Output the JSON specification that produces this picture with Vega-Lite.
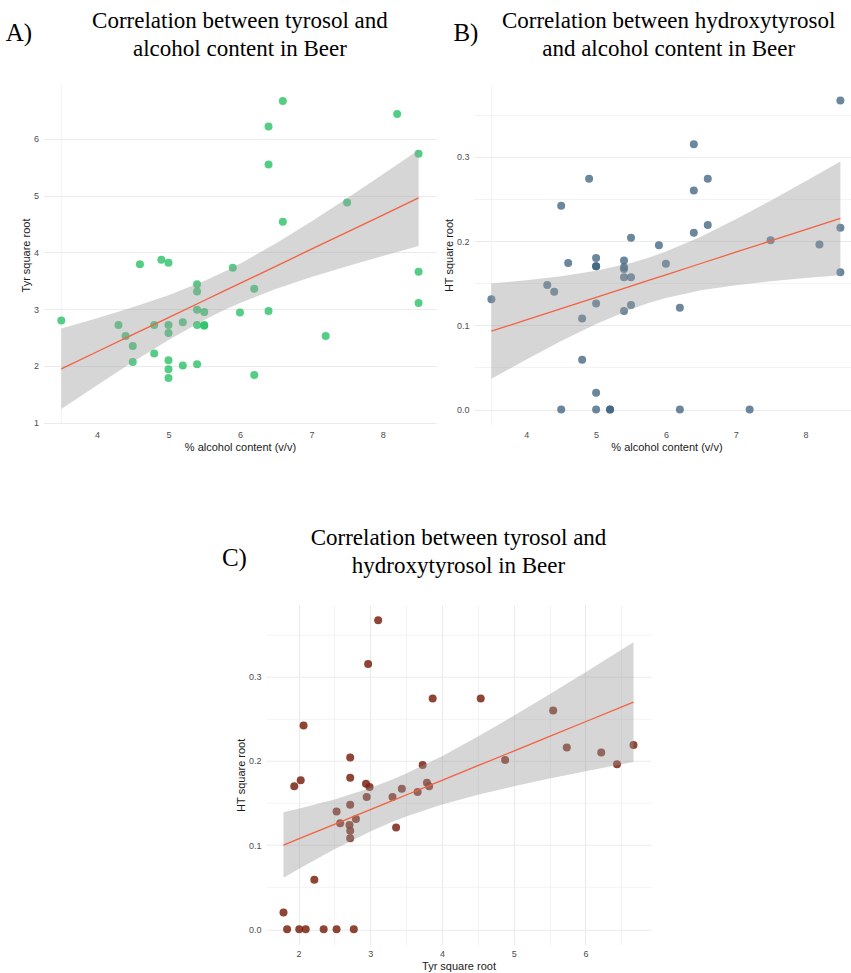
{
  "$schema": "https://vega.github.io/schema/vega-lite/v6.json",
  "padding": {"left": 5, "top": 10, "right": 0, "bottom": 0},
  "background": "white",
  "datasets": {
    "beer": [
      {"alc": 3.5, "tyr": 2.80, "ht": 0.131}, {"alc": 4.3, "tyr": 2.72, "ht": 0.148}, {"alc": 4.4, "tyr": 2.53, "ht": 0.140},
      {"alc": 4.5, "tyr": 2.35, "ht": 0.000}, {"alc": 4.5, "tyr": 2.07, "ht": 0.242}, {"alc": 4.6, "tyr": 3.79, "ht": 0.174},
      {"alc": 4.8, "tyr": 2.72, "ht": 0.108}, {"alc": 4.8, "tyr": 2.22, "ht": 0.059}, {"alc": 4.9, "tyr": 3.87, "ht": 0.274},
      {"alc": 5.0, "tyr": 3.82, "ht": 0.170}, {"alc": 5.0, "tyr": 2.72, "ht": 0.180}, {"alc": 5.0, "tyr": 2.58, "ht": 0.126},
      {"alc": 5.0, "tyr": 2.10, "ht": 0.000}, {"alc": 5.0, "tyr": 1.94, "ht": 0.170}, {"alc": 5.0, "tyr": 1.79, "ht": 0.020},
      {"alc": 5.2, "tyr": 2.77, "ht": 0.000}, {"alc": 5.2, "tyr": 2.01, "ht": 0.000}, {"alc": 5.4, "tyr": 3.44, "ht": 0.167},
      {"alc": 5.4, "tyr": 3.31, "ht": 0.157}, {"alc": 5.4, "tyr": 2.99, "ht": 0.169}, {"alc": 5.4, "tyr": 2.72, "ht": 0.117},
      {"alc": 5.4, "tyr": 2.03, "ht": 0.177}, {"alc": 5.5, "tyr": 2.95, "ht": 0.157}, {"alc": 5.5, "tyr": 2.72, "ht": 0.204},
      {"alc": 5.5, "tyr": 2.71, "ht": 0.124}, {"alc": 5.9, "tyr": 3.73, "ht": 0.195}, {"alc": 6.0, "tyr": 2.94, "ht": 0.173},
      {"alc": 6.2, "tyr": 3.36, "ht": 0.121}, {"alc": 6.2, "tyr": 1.84, "ht": 0.000}, {"alc": 6.4, "tyr": 6.22, "ht": 0.210},
      {"alc": 6.4, "tyr": 5.55, "ht": 0.260}, {"alc": 6.4, "tyr": 2.97, "ht": 0.315}, {"alc": 6.6, "tyr": 6.67, "ht": 0.219},
      {"alc": 6.6, "tyr": 4.54, "ht": 0.274}, {"alc": 7.2, "tyr": 2.53, "ht": 0.000}, {"alc": 7.5, "tyr": 4.88, "ht": 0.201},
      {"alc": 8.2, "tyr": 6.44, "ht": 0.196}, {"alc": 8.5, "tyr": 5.74, "ht": 0.216}, {"alc": 8.5, "tyr": 3.66, "ht": 0.163},
      {"alc": 8.5, "tyr": 3.11, "ht": 0.367}
    ],
    "bandA": [
      {"x": 3.5, "lo": 1.240, "fit": 1.950, "hi": 2.660}, {"x": 4.0, "lo": 1.661, "fit": 2.251, "hi": 2.841},
      {"x": 4.5, "lo": 2.070, "fit": 2.552, "hi": 3.034}, {"x": 5.0, "lo": 2.459, "fit": 2.853, "hi": 3.247},
      {"x": 5.5, "lo": 2.811, "fit": 3.154, "hi": 3.497}, {"x": 5.75, "lo": 2.968, "fit": 3.305, "hi": 3.642},
      {"x": 6.0, "lo": 3.110, "fit": 3.455, "hi": 3.800}, {"x": 6.5, "lo": 3.356, "fit": 3.756, "hi": 4.156},
      {"x": 7.0, "lo": 3.567, "fit": 4.057, "hi": 4.547}, {"x": 7.5, "lo": 3.759, "fit": 4.358, "hi": 4.957},
      {"x": 8.0, "lo": 3.939, "fit": 4.659, "hi": 5.379}, {"x": 8.5, "lo": 4.114, "fit": 4.960, "hi": 5.806}
    ],
    "bandB": [
      {"x": 3.5, "lo": 0.0364, "fit": 0.0930, "hi": 0.1496}, {"x": 4.0, "lo": 0.0593, "fit": 0.1064, "hi": 0.1535},
      {"x": 4.5, "lo": 0.0813, "fit": 0.1198, "hi": 0.1583}, {"x": 5.0, "lo": 0.1017, "fit": 0.1332, "hi": 0.1647},
      {"x": 5.5, "lo": 0.1192, "fit": 0.1466, "hi": 0.1740}, {"x": 5.75, "lo": 0.1264, "fit": 0.1533, "hi": 0.1802},
      {"x": 6.0, "lo": 0.1324, "fit": 0.1600, "hi": 0.1876}, {"x": 6.5, "lo": 0.1415, "fit": 0.1734, "hi": 0.2053},
      {"x": 7.0, "lo": 0.1477, "fit": 0.1868, "hi": 0.2259}, {"x": 7.5, "lo": 0.1524, "fit": 0.2002, "hi": 0.2480},
      {"x": 8.0, "lo": 0.1562, "fit": 0.2136, "hi": 0.2710}, {"x": 8.5, "lo": 0.1595, "fit": 0.2270, "hi": 0.2945}
    ],
    "bandC": [
      {"x": 1.79, "lo": 0.0611, "fit": 0.1000, "hi": 0.1389}, {"x": 2.0, "lo": 0.0715, "fit": 0.1073, "hi": 0.1431},
      {"x": 2.5, "lo": 0.0951, "fit": 0.1247, "hi": 0.1543}, {"x": 3.0, "lo": 0.1163, "fit": 0.1421, "hi": 0.1679},
      {"x": 3.3, "lo": 0.1274, "fit": 0.1525, "hi": 0.1776}, {"x": 3.5, "lo": 0.1340, "fit": 0.1595, "hi": 0.1850},
      {"x": 4.0, "lo": 0.1482, "fit": 0.1769, "hi": 0.2056}, {"x": 4.5, "lo": 0.1597, "fit": 0.1943, "hi": 0.2289},
      {"x": 5.0, "lo": 0.1698, "fit": 0.2117, "hi": 0.2536}, {"x": 5.5, "lo": 0.1790, "fit": 0.2291, "hi": 0.2792},
      {"x": 6.0, "lo": 0.1877, "fit": 0.2465, "hi": 0.3053}, {"x": 6.67, "lo": 0.1988, "fit": 0.2698, "hi": 0.3408}
    ]
  },
  "vconcat": [
    {
      "spacing": 6.5,
      "hconcat": [
        {
          "title": {"text": "A)", "anchor": "start", "frame": "bounds", "offset": -36, "dx": -14.7, "fontSize": 25},
          "hconcat": [
            {
              "width": 393, "height": 340,
              "title": {"text": ["Correlation between tyrosol and", "alcohol content in Beer"], "frame": "group", "anchor": "middle", "offset": 23.3},
              "layer": [
                {
                  "data": {"values": [{}]},
                  "mark": {"type": "rule", "color": "#EBEBEB", "strokeWidth": 0.6},
                  "encoding": {"x": {"datum": 3.5}}
                },
                {
                  "data": {"name": "beer"},
                  "mark": {"type": "circle", "size": 64, "opacity": 0.8, "color": "#2BC267"},
                  "encoding": {
                    "x": {"field": "alc", "type": "quantitative", "title": "% alcohol content (v/v)",
                      "scale": {"domain": [3.25, 8.75], "nice": false, "zero": false},
                      "axis": {"values": [4, 4.5, 5, 5.5, 6, 6.5, 7, 7.5, 8, 8.5], "labelOverlap": false,
                        "labelExpr": "datum.value % 1 === 0 ? format(datum.value, 'd') : ''",
                        "gridWidth": {"condition": {"test": "datum.value % 1 !== 0", "value": 0.6}, "value": 1.1}}},
                    "y": {"field": "tyr", "type": "quantitative", "title": "Tyr square root",
                      "scale": {"domain": [0.96, 6.95], "nice": false, "zero": false},
                      "axis": {"values": [1, 1.5, 2, 2.5, 3, 3.5, 4, 4.5, 5, 5.5, 6, 6.5], "labelOverlap": false,
                        "labelExpr": "datum.value % 1 === 0 ? format(datum.value, 'd') : ''",
                        "gridWidth": {"condition": {"test": "datum.value % 1 !== 0", "value": 0.6}, "value": 1.1}}}
                  }
                },
                {
                  "data": {"name": "bandA"},
                  "mark": {"type": "area", "color": "#999999", "opacity": 0.4},
                  "encoding": {
                    "x": {"field": "x", "type": "quantitative", "title": "% alcohol content (v/v)"},
                    "y": {"field": "lo", "type": "quantitative", "title": "Tyr square root"},
                    "y2": {"field": "hi"}
                  }
                },
                {
                  "data": {"name": "bandA"},
                  "mark": {"type": "line", "color": "#F4603F", "strokeWidth": 1.3},
                  "encoding": {
                    "x": {"field": "x", "type": "quantitative", "title": "% alcohol content (v/v)"},
                    "y": {"field": "fit", "type": "quantitative", "title": "Tyr square root"}
                  }
                }
              ]
            }
          ]
        },
        {
          "title": {"text": "B)", "anchor": "start", "frame": "bounds", "offset": -36, "dx": 10, "fontSize": 25},
          "hconcat": [
            {
              "width": 399.6, "height": 340,
              "title": {"text": ["Correlation between hydroxytyrosol", "and alcohol content in Beer"], "frame": "group", "anchor": "middle", "dx": -5.1, "offset": 23.3},
              "layer": [
                {
                  "data": {"values": [{}]},
                  "mark": {"type": "rule", "color": "#EBEBEB", "strokeWidth": 0.6},
                  "encoding": {"x": {"datum": 3.5}}
                },
                {
                  "data": {"name": "beer"},
                  "mark": {"type": "circle", "size": 64, "opacity": 0.75, "color": "#3A5F7D"},
                  "encoding": {
                    "x": {"field": "alc", "type": "quantitative", "title": "% alcohol content (v/v)",
                      "scale": {"domain": [3.25, 8.975], "nice": false, "zero": false},
                      "axis": {"values": [4, 4.5, 5, 5.5, 6, 6.5, 7, 7.5, 8, 8.5], "labelOverlap": false,
                        "labelExpr": "datum.value % 1 === 0 ? format(datum.value, 'd') : ''",
                        "titleX": 192.5,
                        "gridWidth": {"condition": {"test": "datum.value % 1 !== 0", "value": 0.6}, "value": 1.1}}},
                    "y": {"field": "ht", "type": "quantitative", "title": "HT square root",
                      "scale": {"domain": [-0.0184, 0.3854], "nice": false, "zero": false},
                      "axis": {"values": [0, 0.05, 0.1, 0.15, 0.2, 0.25, 0.3, 0.35], "labelOverlap": false,
                        "labelExpr": "abs(datum.value * 10 - round(datum.value * 10)) < 0.001 ? format(datum.value, '.1f') : ''",
                        "gridWidth": {"condition": {"test": "abs(datum.value * 10 - round(datum.value * 10)) > 0.001", "value": 0.6}, "value": 1.1}}}
                  }
                },
                {
                  "data": {"name": "bandB"},
                  "mark": {"type": "area", "color": "#999999", "opacity": 0.4},
                  "encoding": {
                    "x": {"field": "x", "type": "quantitative", "title": "% alcohol content (v/v)"},
                    "y": {"field": "lo", "type": "quantitative", "title": "HT square root"},
                    "y2": {"field": "hi"}
                  }
                },
                {
                  "data": {"name": "bandB"},
                  "mark": {"type": "line", "color": "#F4603F", "strokeWidth": 1.3},
                  "encoding": {
                    "x": {"field": "x", "type": "quantitative", "title": "% alcohol content (v/v)"},
                    "y": {"field": "fit", "type": "quantitative", "title": "HT square root"}
                  }
                }
              ]
            }
          ]
        }
      ]
    },
    {
      "title": {"text": "C)", "anchor": "start", "frame": "bounds", "offset": -44, "dx": -13.6, "fontSize": 25},
      "hconcat": [
        {
          "width": 385, "height": 340,
          "title": {"text": ["Correlation between tyrosol and", "hydroxytyrosol in Beer"], "frame": "group", "anchor": "middle", "offset": 27},
          "layer": [
            {
              "data": {"name": "beer"},
              "mark": {"type": "circle", "size": 64, "opacity": 0.85, "color": "#7B2413"},
              "encoding": {
                "x": {"field": "tyr", "type": "quantitative", "title": "Tyr square root",
                  "scale": {"domain": [1.546, 6.914], "nice": false, "zero": false},
                  "axis": {"values": [2, 2.5, 3, 3.5, 4, 4.5, 5, 5.5, 6, 6.5], "labelOverlap": false,
                    "labelExpr": "datum.value % 1 === 0 ? format(datum.value, 'd') : ''",
                    "gridWidth": {"condition": {"test": "datum.value % 1 !== 0", "value": 0.6}, "value": 1.1}}},
                "y": {"field": "ht", "type": "quantitative", "title": "HT square root",
                  "scale": {"domain": [-0.0184, 0.3854], "nice": false, "zero": false},
                  "axis": {"values": [0, 0.05, 0.1, 0.15, 0.2, 0.25, 0.3, 0.35], "labelOverlap": false,
                    "labelExpr": "abs(datum.value * 10 - round(datum.value * 10)) < 0.001 ? format(datum.value, '.1f') : ''",
                    "gridWidth": {"condition": {"test": "abs(datum.value * 10 - round(datum.value * 10)) > 0.001", "value": 0.6}, "value": 1.1}}}
              }
            },
            {
              "data": {"name": "bandC"},
              "mark": {"type": "area", "color": "#999999", "opacity": 0.4},
              "encoding": {
                "x": {"field": "x", "type": "quantitative", "title": "Tyr square root"},
                "y": {"field": "lo", "type": "quantitative", "title": "HT square root"},
                "y2": {"field": "hi"}
              }
            },
            {
              "data": {"name": "bandC"},
              "mark": {"type": "line", "color": "#F4603F", "strokeWidth": 1.3},
              "encoding": {
                "x": {"field": "x", "type": "quantitative", "title": "Tyr square root"},
                "y": {"field": "fit", "type": "quantitative", "title": "HT square root"}
              }
            }
          ]
        }
      ]
    }
  ],
  "spacing": 74.8,
  "center": true,
  "config": {
    "view": {"stroke": null},
    "title": {"font": "Liberation Serif", "fontSize": 23, "fontWeight": "normal", "color": "#000000", "lineHeight": 28},
    "axis": {
      "domain": false, "ticks": false, "labelOverlap": false, "labelFlush": false,
      "labelFont": "Liberation Sans", "labelFontSize": 9, "labelColor": "#4D4D4D", "labelPadding": 5,
      "titleFont": "Liberation Sans", "titleFontSize": 11, "titleFontWeight": "normal", "titleColor": "#1A1A1A", "titlePadding": 2,
      "gridColor": "#EBEBEB"
    }
  }
}
